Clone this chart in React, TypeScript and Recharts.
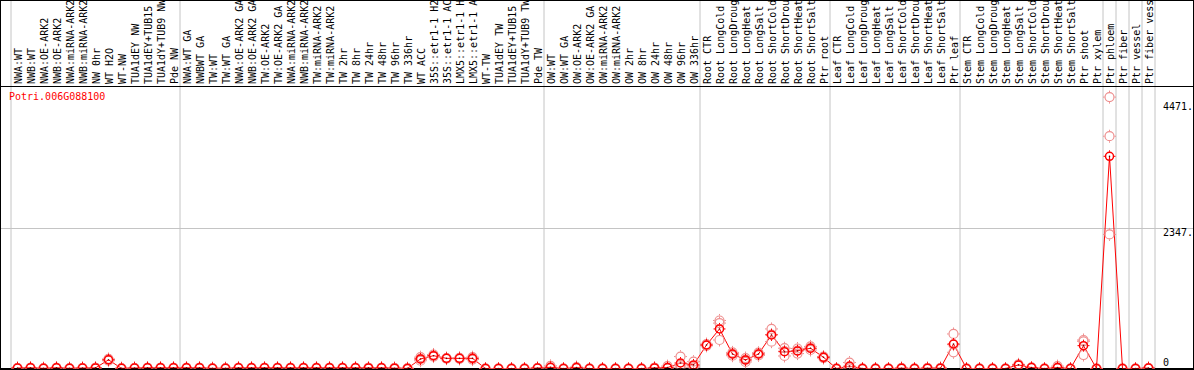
import React from 'react';
import { ComposedChart, Line, XAxis, YAxis, ReferenceLine } from 'recharts';

const labels = [
  'NWA:WT', 'NWB:WT', 'NWA:OE-ARK2', 'NWB:OE-ARK2', 'NWA:miRNA-ARK2', 'NWB:miRNA-ARK2', 'NW 0hr', 'WT H2O',
  'WT-NW', 'TUA1dEY NW', 'TUA1dEY+TUB15', 'TUA1dY+TUB9 NW', 'Pde NW',
  'NWA:WT GA', 'NWBWT GA', 'TW:WT', 'TW:WT GA', 'NWA:OE-ARK2 GA', 'NWB:OE-ARK2 GA', 'TW:OE-ARK2', 'TW:OE-ARK2 GA',
  'NWA:miRNA-ARK2', 'NWB:miRNA-ARK2', 'TW:miRNA-ARK2', 'TW:miRNA-ARK2', 'TW 2hr', 'TW 8hr', 'TW 24hr', 'TW 48hr',
  'TW 96hr', 'TW 336hr', 'WT ACC', '35S::etr1-1 H2O', '35S::etr1-1 ACC', 'LMX5::etr1-1 H2O', 'LMX5::etr1-1 ACC',
  'WT-TW', 'TUA1dEY TW', 'TUA1dEY+TUB15', 'TUA1dY+TUB9 TW', 'Pde TW',
  'OW:WT', 'OW:WT GA', 'OW:OE-ARK2', 'OW:OE-ARK2 GA', 'OW:miRNA-ARK2', 'OW:miRNA-ARK2', 'OW 2hr', 'OW 8hr',
  'OW 24hr', 'OW 48hr', 'OW 96hr', 'OW 336hr',
  'Root CTR', 'Root LongCold', 'Root LongDrought', 'Root LongHeat', 'Root LongSalt', 'Root ShortCold',
  'Root ShortDrought', 'Root ShortHeat', 'Root ShortSalt', 'Ptr root',
  'Leaf CTR', 'Leaf LongCold', 'Leaf LongDrought', 'Leaf LongHeat', 'Leaf LongSalt', 'Leaf ShortCold',
  'Leaf ShortDrought', 'Leaf ShortHeat', 'Leaf ShortSalt', 'Ptr leaf',
  'Stem CTR', 'Stem LongCold', 'Stem LongDrought', 'Stem LongHeat', 'Stem LongSalt', 'Stem ShortCold',
  'Stem ShortDrought', 'Stem ShortHeat', 'Stem ShortSalt', 'Ptr shoot',
  'Ptr xylem', 'Ptr phloem', 'Ptr fiber', 'Ptr vessel', 'Ptr fiber vessel',
];

const means = [
  8, 12, 3, 12, 3, 8, 10, 145, 3, 8, 12, 12, 12,
  12, 12, 3, 3, 12, 12, 12, 12, 12, 12, 12, 12, 12, 12, 10, 12, 5, 2, 160, 215, 170, 170, 170, 0, 0, 0, 0, 8,
  20, 0, 15, 0, 0, 0, 0, 0, 10, 15, 92, 60,
  394, 663, 243, 143, 243, 562, 282, 295, 340, 188,
  0, 40, 0, 0, 0, 5, 0, 5, 5, 411,
  0, 0, 0, 0, 60, 15, 0, 15, 0, 383,
  0, 3557, 0, 0, 8,
];

const rep1 = [
  8, 12, 3, 12, 3, 8, 10, 130, 3, 8, 12, 12, 12,
  12, 12, 3, 3, 12, 12, 12, 12, 12, 12, 12, 12, 12, 12, 10, 12, 5, 2, 130, 200, 165, 160, 150, 0, 0, 0, 0, 8,
  5, 0, 5, 0, 0, 0, 0, 0, 10, 0, 20, 20,
  380, 478, 215, 110, 220, 450, 210, 250, 310, 175,
  0, 0, 0, 0, 0, 5, 0, 5, 5, 272,
  0, 0, 0, 0, 50, 15, 0, 0, 0, 226,
  0, 2248, 0, 0, 8,
];

const rep2 = [
  8, 12, 3, 12, 3, 8, 10, 150, 3, 8, 12, 12, 12,
  12, 12, 3, 3, 12, 12, 12, 12, 12, 12, 12, 12, 12, 12, 10, 12, 5, 2, 160, 215, 170, 170, 170, 0, 0, 0, 0, 8,
  15, 0, 15, 0, 0, 0, 0, 0, 10, 10, 60, 45,
  394, 761, 243, 143, 243, 570, 290, 300, 340, 188,
  0, 20, 0, 0, 0, 5, 0, 5, 5, 400,
  0, 0, 0, 0, 60, 15, 0, 15, 0, 456,
  0, 3894, 0, 0, 8,
];

const rep3 = [
  8, 12, 3, 12, 3, 8, 10, 160, 3, 8, 12, 12, 12,
  12, 12, 3, 3, 12, 12, 12, 12, 12, 12, 12, 12, 12, 12, 10, 12, 5, 2, 190, 235, 175, 180, 190, 0, 0, 0, 0, 8,
  45, 0, 25, 0, 0, 0, 0, 0, 10, 40, 200, 115,
  410, 805, 270, 175, 265, 663, 340, 335, 370, 200,
  0, 100, 0, 0, 0, 5, 0, 5, 5, 579,
  0, 0, 0, 0, 70, 15, 0, 40, 0, 478,
  0, 4550, 0, 0, 8,
];

// column boundaries where the gray separators sit
const groupEdges = [0, 13, 41, 53, 63, 73, 84, 85, 86, 87, 88];
const yTicks = [0, 2347, 4471];
const yTickText: Record<number, string> = { 0: '0', 2347: '2347.', 4471: '4471.' };

const data = labels.map((name, i) => ({
  x: i + 0.5,
  name,
  mean: means[i],
  r1: rep1[i],
  r2: rep2[i],
  r3: rep3[i],
}));

const FONT = '"DejaVu Sans Mono", monospace';
const Y_MAX = 4736;

function XTick(props: any) {
  const { x, payload } = props;
  const label = labels[Math.round(payload.value - 0.5)];
  return (
    <text transform={`translate(${x + 4.5}, 84) rotate(-90)`} fontSize={10} fontFamily={FONT} fill="#000">
      {label}
    </text>
  );
}

function YTick(props: any) {
  const { y, payload } = props;
  const dy = payload.value === 0 ? -2.5 : payload.value === 2347 ? 7.5 : 8;
  return (
    <text x={1163} y={y + dy} fontSize={10} fontFamily={FONT} fill="#000">
      {yTickText[payload.value]}
    </text>
  );
}

function MeanDot(props: any) {
  const { cx, cy } = props;
  if (cx == null || cy == null) return null;
  return (
    <g>
      <circle cx={cx} cy={cy} r={4} fill="none" stroke="#ff0000" strokeWidth={1.5} />
      <path
        d={`M${cx},${cy - 6}V${cy - 4.5}M${cx},${cy + 4.5}V${cy + 6}M${cx - 6},${cy}H${cx - 4.5}M${cx + 4.5},${cy}H${cx + 6}`}
        stroke="#ff0000"
        strokeWidth={1}
      />
      <circle cx={cx} cy={cy} r={0.8} fill="#700" />
    </g>
  );
}

function RepDot(props: any) {
  const { cx, cy } = props;
  if (cx == null || cy == null) return null;
  return (
    <g>
      <circle cx={cx} cy={cy} r={4.5} fill="none" stroke="#ee8f8f" strokeWidth={1.2} />
      <path
        d={`M${cx},${cy - 6.5}V${cy - 5}M${cx},${cy + 5}V${cy + 6.5}M${cx - 6.5},${cy}H${cx - 5}M${cx + 5},${cy}H${cx + 6.5}`}
        stroke="#ee8f8f"
        strokeWidth={1}
      />
    </g>
  );
}

export default function App() {
  return (
    <div style={{ position: 'absolute', left: 0, top: 0, width: 1194, height: 370, background: '#fff' }}>
      <ComposedChart width={1194} height={370} data={data} margin={{ top: 0, right: 0, left: 11, bottom: 1.5 }}>
        <XAxis
          dataKey="x"
          type="number"
          domain={[0, 88]}
          ticks={data.map((d) => d.x)}
          interval={0}
          orientation="top"
          height={86}
          axisLine={false}
          tickLine={false}
          tick={<XTick />}
          allowDataOverflow
        />
        <YAxis
          orientation="right"
          width={39}
          domain={[0, Y_MAX]}
          ticks={yTicks}
          interval={0}
          axisLine={false}
          tickLine={false}
          tick={<YTick />}
          allowDataOverflow
        />
        {groupEdges.map((e) => (
          <ReferenceLine
            key={e}
            segment={[{ x: e, y: 0 }, { x: e, y: 7000 }]}
            stroke="#c4c4c4"
            strokeWidth={1}
            ifOverflow="visible"
          />
        ))}
        <ReferenceLine
          segment={[{ x: -1, y: 2347 }, { x: 92, y: 2347 }]}
          stroke="#c4c4c4"
          strokeWidth={1}
          ifOverflow="visible"
        />
        <ReferenceLine
          segment={[{ x: -1, y: 0 }, { x: 92, y: 0 }]}
          stroke="#000"
          strokeWidth={1}
          ifOverflow="visible"
        />
        <Line dataKey="r1" stroke="none" dot={(p: any) => <RepDot key={`a${p.index}`} {...p} />} activeDot={false} isAnimationActive={false} />
        <Line dataKey="r2" stroke="none" dot={(p: any) => <RepDot key={`b${p.index}`} {...p} />} activeDot={false} isAnimationActive={false} />
        <Line dataKey="r3" stroke="none" dot={(p: any) => <RepDot key={`c${p.index}`} {...p} />} activeDot={false} isAnimationActive={false} />
        <Line
          dataKey="mean"
          stroke="#ff0000"
          strokeWidth={1}
          dot={(p: any) => <MeanDot key={`m${p.index}`} {...p} />}
          activeDot={false}
          isAnimationActive={false}
        />
      </ComposedChart>
      <div style={{ position: 'absolute', left: 0, top: 86, width: 1194, height: 1, background: '#000' }} />
      <div
        style={{
          position: 'absolute',
          left: 0,
          top: 0,
          width: 1194,
          height: 370,
          boxSizing: 'border-box',
          border: '1px solid #000',
          pointerEvents: 'none',
        }}
      />
      <div
        style={{
          position: 'absolute',
          left: 9,
          top: 92,
          fontFamily: FONT,
          fontSize: 10,
          lineHeight: '10px',
          color: '#ff0000',
        }}
      >
        Potri.006G088100
      </div>
    </div>
  );
}
